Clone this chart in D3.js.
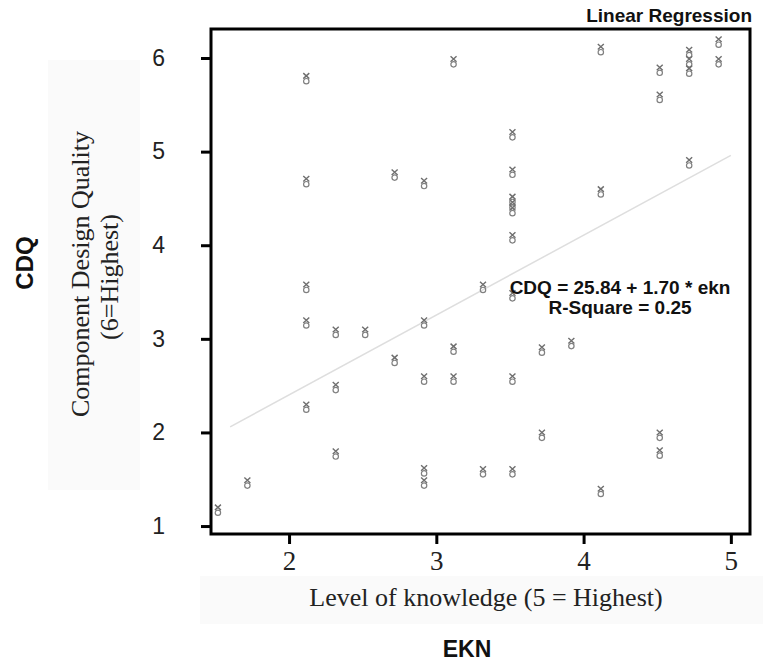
<html>
<head>
<style>
  body { margin: 0; background: #fff; }
  .serif { font-family: "Liberation Serif", "Times New Roman", serif; }
  .sans { font-family: "Liberation Sans", Arial, sans-serif; }
</style>
</head>
<body>
<svg id="chart" width="763" height="661"></svg>
<script src="https://cdnjs.cloudflare.com/ajax/libs/d3/7.8.5/d3.min.js"></script>
<script>
// level of knowledge (ekn) per respondent
const ekn = [
  1.5, 1.7,
  2.1, 2.1, 2.1, 2.1, 2.1,
  2.3, 2.3, 2.3,
  2.5,
  2.7, 2.7,
  2.9, 2.9, 2.9, 2.9, 2.9,
  3.1, 3.1, 3.1,
  3.3, 3.3,
  3.5, 3.5, 3.5, 3.5, 3.5, 3.5, 3.5, 3.5, 3.5,
  3.7, 3.7,
  3.9,
  4.1, 4.1, 4.1,
  4.5, 4.5, 4.5, 4.5,
  4.7, 4.7, 4.7, 4.7,
  4.9, 4.9
]
// component design quality per respondent
const cdq = [
  1.17, 1.46,
  5.78, 4.68, 3.55, 3.17, 2.27,
  3.07, 2.48, 1.77,
  3.07,
  4.75, 2.77,
  4.66, 3.17, 2.57, 1.59, 1.46,
  5.96, 2.89, 2.57,
  3.55, 1.58,
  5.18, 4.78, 4.49, 4.43, 4.37, 4.08, 3.46, 2.57, 1.58,
  2.88, 1.97,
  2.95,
  6.09, 4.57, 1.37,
  5.87, 5.58, 1.97, 1.78,
  6.06, 5.96, 5.86, 4.88,
  6.17, 5.96
]
// fitted line end points as drawn
const fitX = [1.6, 5.0]
const fitY = [2.06, 4.96]

const xTicks = [2, 3, 4, 5]
const yTicks = [1, 2, 3, 4, 5, 6]

const title = "Linear Regression"
const equation = ["CDQ = 25.84 + 1.70 * ekn", "R-Square = 0.25"]

const svg = d3.select("#chart")
const mLeft = 211, mTop = 29
const width = 539, height = 505

// faint label backgrounds
svg.append("rect").attr("x", 48).attr("y", 60).attr("width", 92).attr("height", 430).attr("fill", "#fafafa")
svg.append("rect").attr("x", 200).attr("y", 576).attr("width", 563).attr("height", 48).attr("fill", "#fafafa")

let body = svg.append("g").attr("transform", "translate(" + mLeft + "," + mTop + ")")

let xScale = d3.scaleLinear().domain([1.47, 5.13]).range([0, width])
let yScale = d3.scaleLinear().domain([0.915, 6.31]).range([height, 0])

// axes
let xAxis = body.append("g")
  .attr("transform", "translate(0," + height + ")")
  .call(d3.axisBottom(xScale).tickValues(xTicks).tickSize(10).tickPadding(7).tickFormat(d3.format("d")))
xAxis.select(".domain").remove()
xAxis.selectAll("line").attr("stroke", "#000").attr("stroke-width", 3)
xAxis.selectAll("text").attr("class", "serif").attr("font-size", 27).attr("fill", "#222")

let yAxis = body.append("g")
  .call(d3.axisLeft(yScale).tickValues(yTicks).tickSize(10).tickPadding(36).tickFormat(d3.format("d")))
yAxis.select(".domain").remove()
yAxis.selectAll("line").attr("stroke", "#000").attr("stroke-width", 3)
yAxis.selectAll("text").attr("class", "sans").attr("font-size", 23).attr("fill", "#222")

// frame
body.append("rect")
  .attr("width", width).attr("height", height)
  .attr("fill", "none").attr("stroke", "#000").attr("stroke-width", 3)

// regression line
let fit = fitX.map((x, i) => ({ x: x, y: fitY[i] }))
body.append("path")
  .datum(fit)
  .attr("d", d3.line().x(d => xScale(d.x)).y(d => yScale(d.y)))
  .attr("fill", "none").attr("stroke", "#dedede").attr("stroke-width", 1.5)

// points: small "x" stacked on an "o"
let pts = body.selectAll(".pt")
  .data(ekn.map((x, i) => ({ x: x, y: cdq[i] })))
  .join("g")
  .attr("class", "pt")
  .attr("transform", d => "translate(" + (xScale(d.x) + 2.5) + "," + yScale(d.y) + ")")
pts.append("path")
  .attr("d", "M-3,-5.5L3,0M3,-5.5L-3,0")
  .attr("stroke", "#6e6e6e").attr("stroke-width", 1.4).attr("fill", "none")
pts.append("circle")
  .attr("cx", 0).attr("cy", 2.6).attr("r", 2.7)
  .attr("stroke", "#808080").attr("stroke-width", 1.2).attr("fill", "none")

// equation
body.selectAll(".eq")
  .data(equation)
  .join("text")
  .attr("class", "eq sans")
  .attr("x", 620 - mLeft)
  .attr("y", (d, i) => 294 - mTop + i * 20)
  .attr("text-anchor", "middle")
  .attr("font-size", 19).attr("font-weight", "bold").attr("fill", "#111")
  .text(d => d)

// title
svg.append("text").attr("class", "sans")
  .attr("x", 752).attr("y", 22).attr("text-anchor", "end")
  .attr("font-size", 19).attr("font-weight", "bold").attr("fill", "#111")
  .text(title)

// y labels
svg.append("text").attr("class", "sans")
  .attr("transform", "translate(33,263) rotate(-90)")
  .attr("text-anchor", "middle").attr("font-size", 24).attr("font-weight", "bold").attr("fill", "#111")
  .text("CDQ")
svg.append("text").attr("class", "serif")
  .attr("transform", "translate(89,274) rotate(-90)")
  .attr("text-anchor", "middle").attr("font-size", 26).attr("fill", "#222")
  .text("Component Design Quality")
svg.append("text").attr("class", "serif")
  .attr("transform", "translate(118,277) rotate(-90)")
  .attr("text-anchor", "middle").attr("font-size", 26).attr("fill", "#222")
  .text("(6=Highest)")

// x labels
svg.append("text").attr("class", "serif")
  .attr("x", 486).attr("y", 606).attr("text-anchor", "middle")
  .attr("font-size", 26).attr("fill", "#222")
  .text("Level of knowledge (5 = Highest)")
svg.append("text").attr("class", "sans")
  .attr("x", 467).attr("y", 657).attr("text-anchor", "middle")
  .attr("font-size", 23).attr("font-weight", "bold").attr("fill", "#111")
  .text("EKN")
</script>
</body>
</html>
